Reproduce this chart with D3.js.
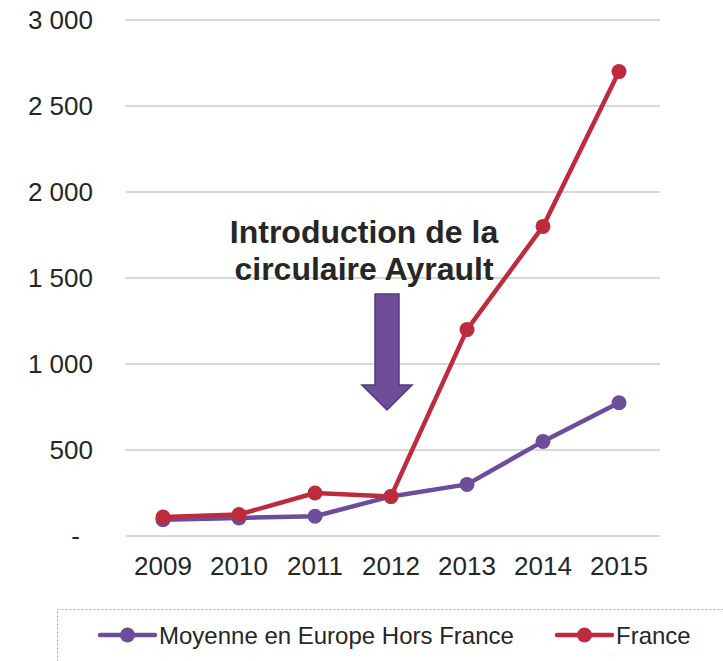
<!DOCTYPE html>
<html lang="fr">
<head>
    <meta charset="UTF-8">
    <title>Circulaire Ayrault</title>
    <style>
        body { margin: 0; background: #fff; }
        svg { display: block; font-family: "Liberation Sans", Arial, sans-serif; }
    </style>
</head>
<body>
<script src="https://cdnjs.cloudflare.com/ajax/libs/d3/7.8.5/d3.min.js"></script>
<script>
    const width = 723;
    const height = 661;

    const years = ["2009", "2010", "2011", "2012", "2013", "2014", "2015"];
    const europe = [95, 105, 115, 230, 300, 550, 775];
    const france = [110, 125, 250, 230, 1200, 1800, 2700];
    const yTicks = [0, 500, 1000, 1500, 2000, 2500, 3000];
    const seriesNames = ["Moyenne en Europe Hors France", "France"];
    const seriesColors = ["#6c4d9b", "#be2b3c"];
    const noteLines = ["Introduction de la", "circulaire Ayrault"];

    const svg = d3.select("body").append("svg")
        .attr("width", width)
        .attr("height", height);

    const x = d3.scalePoint()
        .domain(years)
        .range([125, 657])
        .padding(0.5);
    const y = d3.scaleLinear()
        .domain([0, 3000])
        .range([536, 20]);

    // grid
    svg.append("g")
        .selectAll("line")
        .data(yTicks)
        .join("line")
        .attr("x1", 125)
        .attr("x2", 660)
        .attr("y1", d => y(d))
        .attr("y2", d => y(d))
        .attr("stroke", "#d9d9d9")
        .attr("stroke-width", 2);

    const fmt = d => d === 0 ? "-" : d3.format(",")(d).replace(",", " ");

    svg.append("g")
        .selectAll("text")
        .data(yTicks)
        .join("text")
        .attr("x", d => d === 0 ? 80 : 93)
        .attr("y", d => y(d) + 9)
        .attr("text-anchor", "end")
        .attr("font-size", 26)
        .attr("fill", "#262626")
        .text(fmt);

    svg.append("g")
        .selectAll("text")
        .data(years)
        .join("text")
        .attr("x", d => x(d))
        .attr("y", 575)
        .attr("text-anchor", "middle")
        .attr("font-size", 26)
        .attr("fill", "#262626")
        .text(d => d);

    const line = d3.line()
        .x((d, i) => x(years[i]))
        .y(d => y(d));

    [europe, france].forEach((s, k) => {
        const g = svg.append("g");
        g.append("path")
            .datum(s)
            .attr("d", line)
            .attr("fill", "none")
            .attr("stroke", seriesColors[k])
            .attr("stroke-width", 4.5)
            .attr("stroke-linejoin", "round");
        g.selectAll("circle")
            .data(s)
            .join("circle")
            .attr("cx", (d, i) => x(years[i]))
            .attr("cy", d => y(d))
            .attr("r", 7.5)
            .attr("fill", seriesColors[k]);
    });

    // annotation
    svg.append("g")
        .selectAll("text")
        .data(noteLines)
        .join("text")
        .attr("x", 364)
        .attr("y", (d, i) => 243 + i * 37)
        .attr("text-anchor", "middle")
        .attr("font-size", 32)
        .attr("font-weight", "bold")
        .attr("fill", "#262626")
        .text(d => d);

    const ax = x("2012") - 4;
    svg.append("path")
        .attr("d", `M${ax - 12},294 H${ax + 12} V385 H${ax + 25} L${ax},410 L${ax - 25},385 H${ax - 12} Z`)
        .attr("fill", "#6e4f97")
        .attr("stroke", "#55397d")
        .attr("stroke-width", 1.5);

    // legend
    svg.append("rect")
        .attr("x", 57.5)
        .attr("y", 609.5)
        .attr("width", 700)
        .attr("height", 100)
        .attr("fill", "none")
        .attr("stroke", "#a6a6a6")
        .attr("stroke-dasharray", "2,2");

    const legendX = [100, 557];
    seriesNames.forEach((name, k) => {
        const g = svg.append("g").attr("transform", `translate(${legendX[k]},635)`);
        g.append("line")
            .attr("x1", 0).attr("x2", 55)
            .attr("stroke", seriesColors[k])
            .attr("stroke-width", 4.5)
            .attr("stroke-linecap", "round");
        g.append("circle")
            .attr("cx", 27.5)
            .attr("r", 7.5)
            .attr("fill", seriesColors[k]);
        g.append("text")
            .attr("x", 59)
            .attr("y", 8.5)
            .attr("font-size", 24)
            .attr("fill", "#262626")
            .text(name);
    });
</script>
</body>
</html>
